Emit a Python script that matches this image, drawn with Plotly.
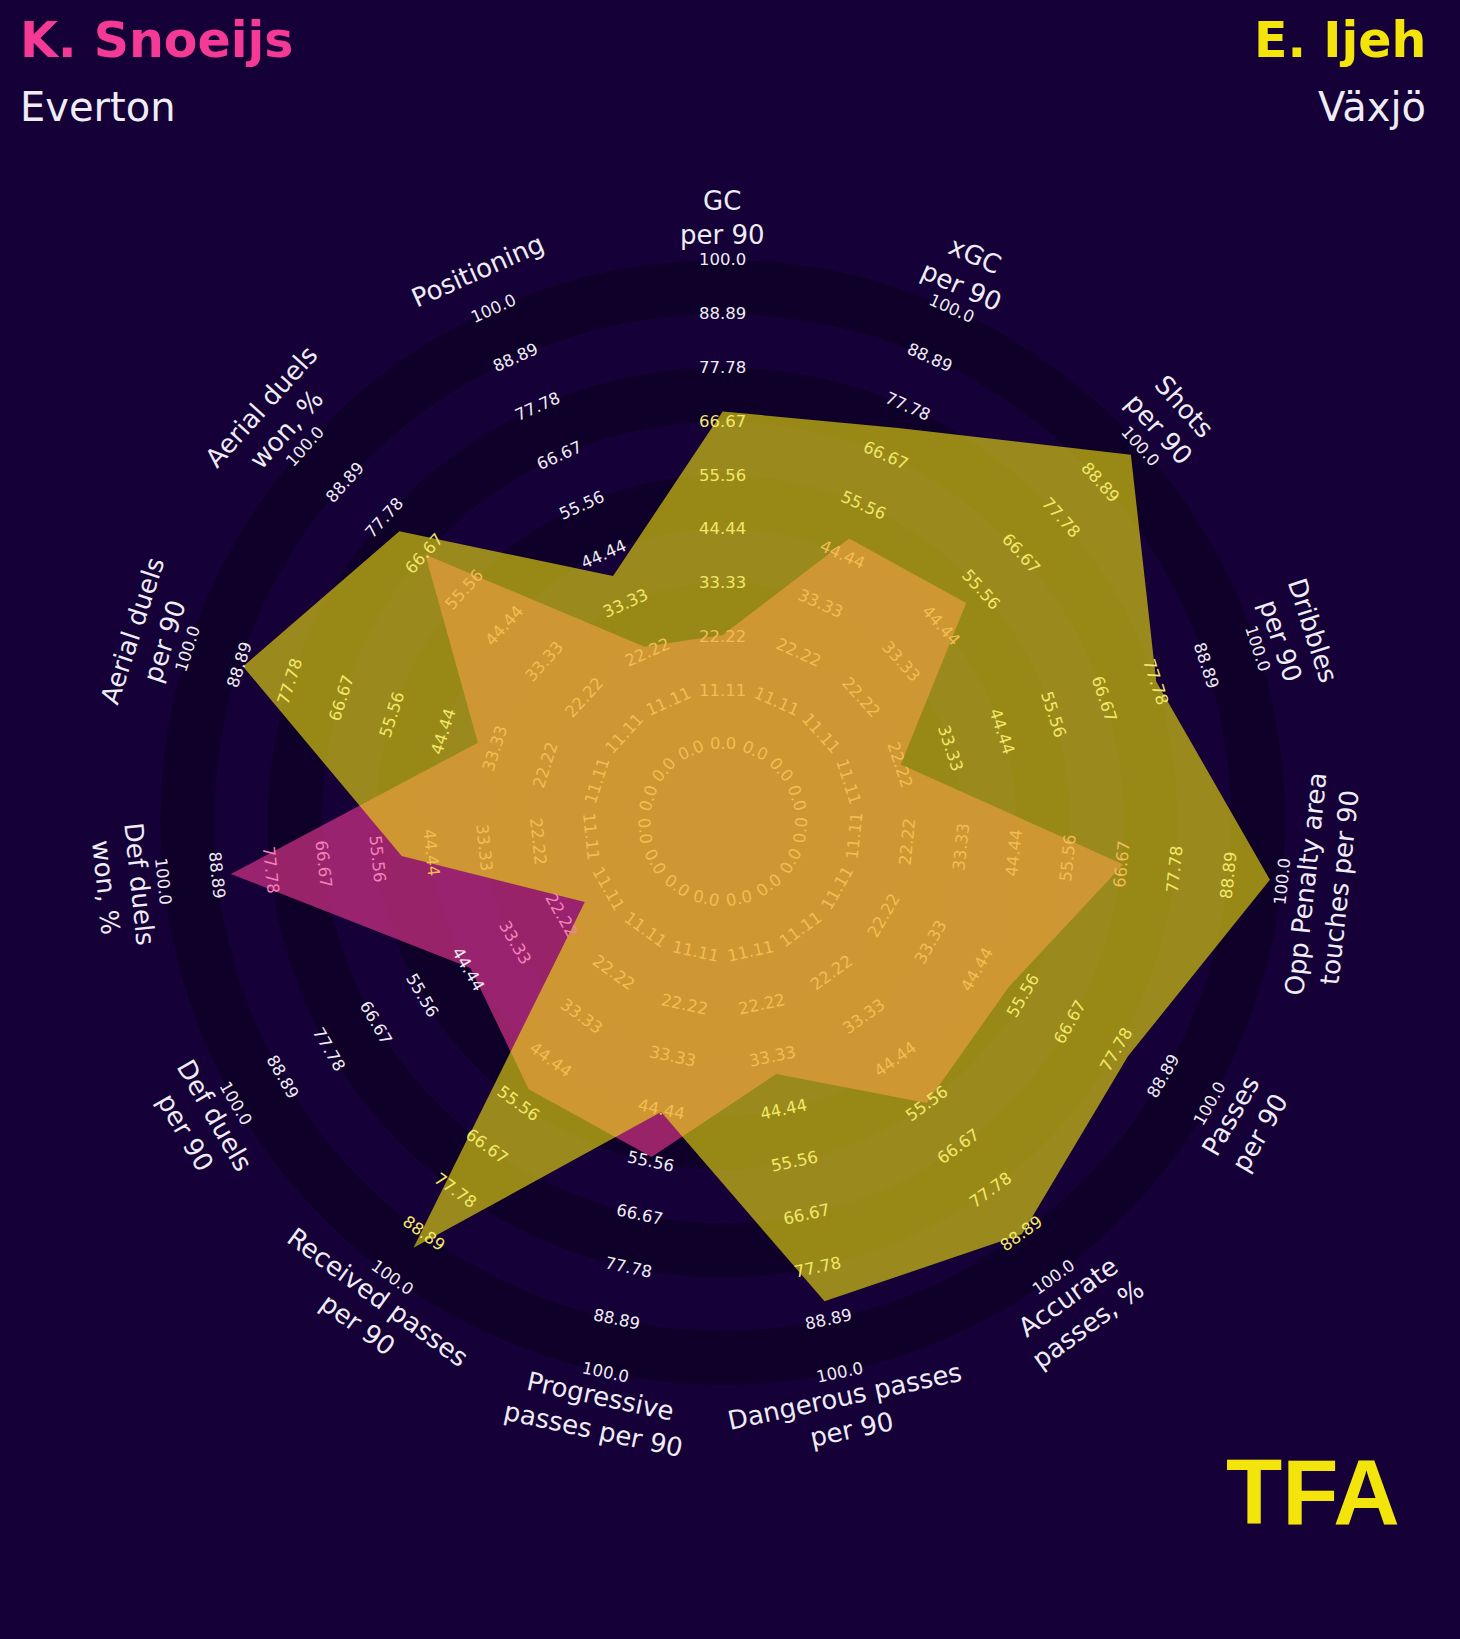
import math
import plotly.graph_objects as go

# ---------------- data ----------------
PARAMS = [
    "GC\nper 90", "xGC\nper 90", "Shots\nper 90", "Dribbles\nper 90",
    "Opp Penalty area\ntouches per 90", "Passes\nper 90", "Accurate\npasses, %",
    "Dangerous passes\nper 90", "Progressive\npasses per 90", "Received passes\nper 90",
    "Def duels\nper 90", "Def duels\nwon, %", "Aerial duels\nper 90",
    "Aerial duels\nwon, %", "Positioning",
]
PLAYER_A = "K. Snoeijs"
TEAM_A = "Everton"
PLAYER_B = "E. Ijeh"
TEAM_B = "Växjö"
VALUES_A = [22.5, 48.0, 51.5, 22.5, 67.0, 52.0, 55.5, 37.0, 54.5, 52.0, 44.0, 86.0, 37.0, 66.5, 23.5]
VALUES_B = [68.7, 73.0, 97.3, 78.0, 97.5, 80.5, 89.0, 85.0, 45.0, 92.5, 16.7, 50.5, 88.0, 73.7, 39.5]
RANGE_MIN = 0.0
RANGE_MAX = 100.0
RANGE_VALUES = [0.0, 11.11, 22.22, 33.33, 44.44, 55.56, 66.67, 77.78, 88.89, 100.0]
RANGE_LABELS = ["0.0", "11.11", "22.22", "33.33", "44.44", "55.56", "66.67", "77.78", "88.89", "100.0"]
LOGO = "TFA"

# ---------------- style ----------------
W, H = 1460, 1639
UNIT = 53.77            # px per ring
CX, CY = 722.7, 822.3   # radar centre in px
CENTER_R = 1.458        # inner circle radius (ring units)
N_RINGS = len(RANGE_VALUES) - 1
PARAM_R = 11.23
BG = "#150038"
RING_DARK = "#0f0029"
PINK = (244, 58, 148)
YELLOW = (243, 229, 12)
ALPHA = 0.6
TEXT = (238, 236, 244)
FONT = "DejaVu Sans"


def radius(v):
    return CENTER_R + (v - RANGE_MIN) / (RANGE_MAX - RANGE_MIN) * N_RINGS


def xy(v, i):
    th = math.radians(i * 360.0 / len(PARAMS))
    r = radius(v)
    return r * math.sin(th), r * math.cos(th)


def text_angle(i):
    t = (i * 360.0 / len(PARAMS)) % 360
    if t > 270:
        return t - 360
    if t > 90:
        return t - 180
    return t


def inside(px, py, poly):
    n = len(poly)
    res = False
    j = n - 1
    for k in range(n):
        xi, yi = poly[k]
        xj, yj = poly[j]
        if (yi > py) != (yj > py):
            xc = xi + (py - yi) * (xj - xi) / (yj - yi)
            if px < xc:
                res = not res
        j = k
    return res


def blend(base, top, a):
    return tuple(a * t + (1 - a) * b for b, t in zip(base, top))


def rgb(c):
    return "rgb(%d,%d,%d)" % tuple(int(round(v)) for v in c)


poly_a = [xy(v, i) for i, v in enumerate(VALUES_A)]
poly_b = [xy(v, i) for i, v in enumerate(VALUES_B)]

fig = go.Figure()

# rings
shapes = []
for k in range(N_RINGS, -1, -1):
    r = radius(RANGE_VALUES[k])
    col = RING_DARK if (N_RINGS - k) % 2 == 0 else BG
    shapes.append(dict(type="circle", xref="x", yref="y", x0=-r, x1=r, y0=-r, y1=r,
                       fillcolor=col, line=dict(width=0), layer="below"))

# polygons
for poly, col in [(poly_a, PINK), (poly_b, YELLOW)]:
    xs = [p[0] for p in poly] + [poly[0][0]]
    ys = [p[1] for p in poly] + [poly[0][1]]
    fig.add_trace(go.Scatter(
        x=xs, y=ys, mode="lines", fill="toself",
        fillcolor="rgba(%d,%d,%d,%.2f)" % (col + (ALPHA,)),
        line=dict(width=0), hoverinfo="skip", showlegend=False))

annotations = []
# range labels (colour them as if under the translucent polygons)
for i in range(len(PARAMS)):
    for k, lab in enumerate(RANGE_LABELS):
        x, y = xy(RANGE_VALUES[k], i)
        c = TEXT
        if inside(x, y, poly_a):
            c = blend(c, PINK, ALPHA)
        if inside(x, y, poly_b):
            c = blend(c, YELLOW, ALPHA)
        annotations.append(dict(x=x, y=y, xref="x", yref="y", text=lab, showarrow=False,
                                textangle=text_angle(i), xanchor="center", yanchor="middle",
                                font=dict(family=FONT, size=16.5, color=rgb(c))))

# parameter labels
for i, p in enumerate(PARAMS):
    th = math.radians(i * 360.0 / len(PARAMS))
    annotations.append(dict(x=PARAM_R * math.sin(th), y=PARAM_R * math.cos(th), xref="x", yref="y",
                            text=p.replace("\n", "<br>"), showarrow=False, align="center",
                            textangle=text_angle(i), xanchor="center", yanchor="middle",
                            font=dict(family=FONT, size=26, color=rgb(TEXT))))

# titles
annotations += [
    dict(x=18 / W, y=1 - 40 / H, xref="paper", yref="paper", text="<b>%s</b>" % PLAYER_A,
         showarrow=False, xanchor="left", yanchor="middle",
         font=dict(family=FONT, size=49, color=rgb(PINK))),
    dict(x=18 / W, y=1 - 107 / H, xref="paper", yref="paper", text=TEAM_A,
         showarrow=False, xanchor="left", yanchor="middle",
         font=dict(family=FONT, size=40, color=rgb(TEXT))),
    dict(x=1428 / W, y=1 - 40 / H, xref="paper", yref="paper", text="<b>%s</b>" % PLAYER_B,
         showarrow=False, xanchor="right", yanchor="middle",
         font=dict(family=FONT, size=49, color=rgb(YELLOW))),
    dict(x=1428 / W, y=1 - 107 / H, xref="paper", yref="paper", text=TEAM_B,
         showarrow=False, xanchor="right", yanchor="middle",
         font=dict(family=FONT, size=40, color=rgb(TEXT))),
    dict(x=1313 / W, y=1 - 1492 / H, xref="paper", yref="paper", text="<b>%s</b>" % LOGO,
         showarrow=False, xanchor="center", yanchor="middle",
         font=dict(family="Liberation Sans", size=92, color=rgb(YELLOW))),
]

fig.update_layout(
    width=W, height=H, margin=dict(l=0, r=0, t=0, b=0),
    paper_bgcolor=BG, plot_bgcolor=BG,
    shapes=shapes, annotations=annotations, showlegend=False,
    xaxis=dict(range=[-CX / UNIT, (W - CX) / UNIT], visible=False, fixedrange=True),
    yaxis=dict(range=[-(H - CY) / UNIT, CY / UNIT], visible=False, fixedrange=True),
)

fig.write_html("out.html", config={"displayModeBar": False})
